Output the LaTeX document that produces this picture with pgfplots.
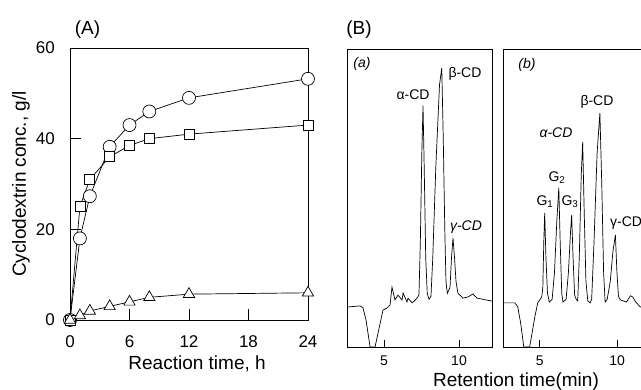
\documentclass[border=0pt]{standalone}
\usepackage{fontspec}
\setmainfont{Liberation Sans}
\usepackage{pgfplots}
\pgfplotsset{compat=1.18}
\begin{document}
\begin{tikzpicture}[x=1pt,y=1pt]
\pgfplotsset{/pgf/number format/assume math mode=true}
% ---------------- Panel A ----------------
\begin{axis}[at={(70pt,70pt)}, anchor=south west, scale only axis,
  width=238pt, height=272pt,
  xmin=0, xmax=24, ymin=0, ymax=60,
  xtick={0,6,12,18,24}, ytick={0,20,40,60},
  tick align=inside, xtick pos=bottom, ytick pos=left,
  major tick length=11pt,
  tick style={black, line width=0.7pt},
  axis line style={line width=0.8pt},
  ticklabel style={font=\fontsize{17}{17}\selectfont},
  xticklabel style={inner sep=0pt, yshift=-15pt},
  yticklabel style={inner sep=0pt, xshift=-15pt},
  xlabel={Reaction time, h},
  ylabel={Cyclodextrin conc., g/l},
  label style={font=\fontsize{19}{19}\selectfont},
  xlabel style={at={(axis description cs:0.534,-0.162)}, anchor=center},
  ylabel style={at={(axis description cs:-0.206,0.5)}, anchor=center},
  clip=false]
\addplot[black, line width=0.7pt, mark=*, mark size=6.5pt, mark options={fill=white, draw=black, line width=0.7pt}]
  coordinates {(0,0) (1,18) (2,27.3) (4,38.2) (6,43) (8,46) (12,49) (24,53.2)};
\addplot[black, line width=0.7pt, mark=square*, mark size=5pt, mark options={fill=white, draw=black, line width=0.7pt}]
  coordinates {(0,0) (1,25) (2,31) (4,36) (6,38.5) (8,40) (12,41) (24,43)};
\addplot[black, line width=0.7pt, mark=triangle*, mark size=6.5pt, mark options={fill=white, draw=black, line width=0.7pt}]
  coordinates {(0,0) (1,1) (2,2) (4,3) (6,4) (8,5) (12,5.7) (24,6)};
\end{axis}
% ---------------- Panel B (a) ----------------
\begin{axis}[at={(347pt,43pt)}, anchor=south west, scale only axis,
  width=145pt, height=298pt,
  xmin=2.53, xmax=12.2, ymin=0, ymax=100,
  xtick={5,10}, ytick=\empty,
  tick align=inside, xtick pos=bottom,
  major tick length=7pt,
  tick style={black, line width=0.6pt},
  axis line style={line width=0.8pt},
  ticklabel style={font=\fontsize{14}{14}\selectfont},
  xticklabel style={inner sep=0pt, yshift=-9pt}]
\addplot[black, line width=0.7pt] coordinates {
 (2.53,13.4) (3.4,13.8) (3.6,13.1) (3.8,9) (4.07,0) (4.4,0) (4.93,12.4)
 (5.2,13.1) (5.4,14.1) (5.53,20.1) (5.73,15.8) (5.93,17.4) (6.2,15.8)
 (6.27,18.1) (6.53,15.1) (6.6,16.4) (6.87,14.8) (7.2,16.4) (7.33,17.5)
 (7.42,35) (7.52,65) (7.6,81) (7.68,60) (7.78,30) (7.88,18) (8.0,16) (8.13,17)
 (8.25,30) (8.45,60) (8.7,88) (8.85,93.6) (8.95,70) (9.05,40) (9.13,22) (9.22,18)
 (9.4,20) (9.5,30) (9.6,36.6) (9.7,30) (9.8,22) (9.93,18) (10.27,16.4)
 (10.6,16.8) (10.93,17.8) (11.2,16.4) (11.6,16) (12.2,15.4)};
\end{axis}
% ---------------- Panel B (b) ----------------
\begin{axis}[at={(503pt,43pt)}, anchor=south west, scale only axis,
  width=142pt, height=298pt,
  xmin=2.63, xmax=11.79, ymin=0, ymax=100,
  xtick={5,10}, ytick=\empty,
  tick align=inside, xtick pos=bottom,
  major tick length=7pt,
  tick style={black, line width=0.6pt},
  axis line style={line width=0.8pt},
  ticklabel style={font=\fontsize{14}{14}\selectfont},
  xticklabel style={inner sep=0pt, yshift=-9pt}]
\addplot[black, line width=0.7pt] coordinates {
 (2.63,14.8) (3.39,14.8) (3.58,13.5) (3.77,8) (3.97,0) (4.35,0) (4.68,10)
 (4.87,14.8) (5.13,16.8) (5.2,20) (5.26,35) (5.32,45) (5.4,30) (5.5,18) (5.62,15.1)
 (5.8,16) (5.95,25) (6.1,42) (6.23,53.4) (6.32,35) (6.42,18) (6.5,15.1)
 (6.7,16) (6.85,25) (6.98,38) (7.06,44.3) (7.15,30) (7.25,17.5) (7.35,16)
 (7.45,15.5) (7.55,30) (7.68,58) (7.77,68.8) (7.87,45) (7.98,22) (8.1,15.5) (8.25,14.8)
 (8.35,16) (8.5,35) (8.7,65) (8.88,78.5) (9.0,55) (9.12,25) (9.22,15.1)
 (9.35,16) (9.55,22) (9.72,32) (9.88,37.6) (9.98,25) (10.08,17) (10.2,15.8)
 (10.6,15.1) (10.85,17.2) (11.0,16.8) (11.2,15) (11.5,13.4) (11.79,13.4)};
\end{axis}
% ---------------- Labels ----------------
\node[font=\fontsize{19}{19}\selectfont] at (87.5,360.5) {(A)};
\node[font=\fontsize{19}{19}\selectfont] at (359,360) {(B)};
\node[font=\fontsize{19}{19}\selectfont] at (516,8) {Retention time(min)};
\begin{scope}[every node/.style={font=\fontsize{14}{14}\selectfont, inner sep=0pt}]
\node[font=\fontsize{14}{14}\selectfont\itshape] at (362,326) {(a)};
\node at (413,295) {α-CD};
\node at (465,316) {β-CD};
\node[font=\fontsize{14}{14}\selectfont\itshape] at (466,163) {γ-CD};
\node[font=\fontsize{14}{14}\selectfont\itshape] at (527,325) {(b)};
\node at (597,288) {β-CD};
\node[font=\fontsize{14}{14}\selectfont\itshape] at (556,257) {α-CD};
\node at (557,212) {G\textsubscript{2}};
\node at (545,188) {G\textsubscript{1}};
\node at (570,188) {G\textsubscript{3}};
\node[anchor=west] at (610,167) {γ-CD};
\end{scope}
\pgfresetboundingbox
\path[use as bounding box] (0,0) rectangle (641,390);
\end{tikzpicture}
\end{document}
